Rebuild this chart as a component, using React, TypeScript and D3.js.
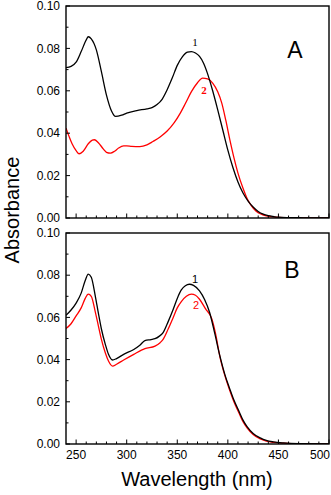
import * as d3 from "d3";

// panel A, curve 1 (black) and 2 (red): [wavelength nm, absorbance]
const topCurve1: [number, number][] = [
  [240, 0.0709], [245, 0.0715], [250, 0.0735], [255, 0.0785], [260, 0.084], [262, 0.0855],
  [265, 0.0845], [270, 0.0793], [275, 0.069], [280, 0.058], [285, 0.0505], [289, 0.0479],
  [295, 0.0485], [300, 0.0495], [310, 0.0507], [320, 0.0515], [325, 0.0521], [330, 0.0535],
  [335, 0.056], [340, 0.0605], [345, 0.066], [350, 0.072], [355, 0.076], [360, 0.0782],
  [364, 0.0785], [368, 0.0778], [372, 0.0762], [376, 0.073], [380, 0.068], [385, 0.06],
  [390, 0.051], [395, 0.0415], [400, 0.032], [405, 0.0238], [410, 0.017], [415, 0.0118],
  [420, 0.008], [425, 0.0052], [430, 0.0031], [435, 0.0018], [440, 0.0011], [445, 0.0007],
  [450, 0.0004], [460, 0.0002], [475, 0.0001], [500, 0.0],
];
const topCurve2: [number, number][] = [
  [240, 0.0424], [243, 0.0385], [246, 0.035], [250, 0.0318], [253, 0.0303], [257, 0.0315],
  [262, 0.035], [266, 0.0367], [268, 0.0369], [272, 0.0355], [277, 0.0325], [280, 0.031],
  [284, 0.0306], [288, 0.0315], [292, 0.033], [297, 0.034], [300, 0.034], [305, 0.0338],
  [313, 0.0337], [320, 0.0345], [326, 0.0361], [333, 0.0382], [340, 0.041], [347, 0.045],
  [353, 0.0495], [358, 0.054], [364, 0.0596], [370, 0.0638], [375, 0.066], [380, 0.0656],
  [385, 0.0636], [390, 0.0595], [394, 0.0542], [398, 0.046], [402, 0.0369], [406, 0.0285],
  [410, 0.0212], [415, 0.014], [419, 0.0092], [423, 0.006], [428, 0.0032], [433, 0.0018],
  [438, 0.001], [445, 0.0005], [455, 0.0002], [470, 0.0001], [500, 0.0],
];

// panel B
const bottomCurve1: [number, number][] = [
  [240, 0.061], [245, 0.0635], [250, 0.0668], [255, 0.0715], [259, 0.0775], [262, 0.0805],
  [265, 0.079], [269, 0.07], [272, 0.062], [275, 0.0545], [279, 0.047], [282, 0.0425],
  [286, 0.0398], [290, 0.0405], [297, 0.0425], [307, 0.0448], [313, 0.0468], [318, 0.049],
  [324, 0.0495], [328, 0.0499], [332, 0.051], [336, 0.0528], [341, 0.058], [346, 0.0639],
  [350, 0.069], [354, 0.073], [358, 0.075], [362, 0.0757], [366, 0.0752], [372, 0.0726],
  [377, 0.0685], [382, 0.0623], [387, 0.0525], [392, 0.042], [397, 0.033], [402, 0.026],
  [406, 0.0208], [411, 0.0155], [415, 0.0113], [419, 0.0082], [425, 0.005], [432, 0.0029],
  [438, 0.0017], [445, 0.001], [455, 0.0005], [470, 0.0002], [500, 0.0001],
];
const bottomCurve2: [number, number][] = [
  [240, 0.0547], [245, 0.057], [250, 0.0607], [255, 0.0645], [259, 0.069], [262, 0.071],
  [265, 0.07], [269, 0.0625], [272, 0.056], [275, 0.0496], [279, 0.043], [282, 0.0393],
  [286, 0.0369], [290, 0.0378], [297, 0.0398], [307, 0.0425], [318, 0.0452], [328, 0.0464],
  [333, 0.048], [336, 0.0496], [341, 0.0545], [346, 0.06], [350, 0.0645], [354, 0.0675],
  [359, 0.07], [364, 0.071], [368, 0.0705], [372, 0.0686], [378, 0.064], [384, 0.0595],
  [388, 0.052], [392, 0.0417], [397, 0.0325], [402, 0.0252], [406, 0.02], [411, 0.0147],
  [415, 0.0106], [419, 0.0077], [425, 0.0045], [432, 0.0024], [438, 0.0014], [445, 0.0008],
  [455, 0.0004], [470, 0.0001], [500, 0.0],
];

const yMajor = [0, 0.02, 0.04, 0.06, 0.08, 0.1];
const yMinor = [0.01, 0.03, 0.05, 0.07, 0.09];
const xMajor = [250, 300, 350, 400, 450, 500];
const xMinor = [260, 270, 280, 290, 310, 320, 330, 340, 360, 370, 380, 390, 410, 420, 430, 440, 460, 470, 480, 490];

const W = 331;
const H = 495;
const left = 66;
const right = 329;
const FONT = "'Liberation Sans', Arial, sans-serif";

const x = d3.scaleLinear().domain([240, 500]).range([left, right]);

type PanelProps = {
  top: number;
  bottom: number;
  c1: [number, number][];
  c2: [number, number][];
  letter: string;
  letterPos: [number, number];
  lab1: [number, number];
  lab2: [number, number];
  serifLabels: boolean;
  xLabels: boolean;
};

function Panel({ top, bottom, c1, c2, letter, letterPos, lab1, lab2, serifLabels, xLabels }: PanelProps) {
  const y = d3.scaleLinear().domain([0, 0.1]).range([bottom, top]);
  const line = d3
    .line<[number, number]>()
    .x((d) => x(d[0]))
    .y((d) => y(d[1]))
    .curve(d3.curveMonotoneX);
  const labFont = serifLabels ? "'Liberation Serif', 'Times New Roman', serif" : FONT;
  return (
    <g>
      <defs>
        <clipPath id={"clip-" + letter}>
          <rect x={left} y={top} width={right - left} height={bottom - top} />
        </clipPath>
      </defs>
      <g clipPath={`url(#clip-${letter})`}>
        <path d={line(c2) || ""} fill="none" stroke="#ff0000" strokeWidth={1.3} />
        <path d={line(c1) || ""} fill="none" stroke="#000" strokeWidth={1.3} />
      </g>
      {yMajor.map((v) => (
        <g key={"ym" + v}>
          <line x1={left} x2={left + 4} y1={y(v)} y2={y(v)} stroke="#000" strokeWidth={1} />
          <text x={left - 6} y={y(v)} dy="0.35em" textAnchor="end" fontFamily={FONT} fontSize={12}>
            {d3.format(".2f")(v)}
          </text>
        </g>
      ))}
      {yMinor.map((v) => (
        <line key={"yn" + v} x1={left} x2={left + 2.5} y1={y(v)} y2={y(v)} stroke="#000" strokeWidth={1} />
      ))}
      {xMajor.map((v) => (
        <g key={"xm" + v}>
          <line x1={x(v)} x2={x(v)} y1={bottom} y2={bottom - 4.5} stroke="#000" strokeWidth={1} />
          {xLabels && (
            <text
              x={v === 500 ? W - 1 : x(v)}
              y={bottom + 15}
              textAnchor={v === 500 ? "end" : "middle"}
              fontFamily={FONT}
              fontSize={12}
            >
              {v}
            </text>
          )}
        </g>
      ))}
      {xMinor.map((v) => (
        <line key={"xn" + v} x1={x(v)} x2={x(v)} y1={bottom} y2={bottom - 2.5} stroke="#000" strokeWidth={1} />
      ))}
      <rect x={left} y={top} width={right - left} height={bottom - top} fill="none" stroke="#000" strokeWidth={1.4} />
      <text x={letterPos[0]} y={letterPos[1]} textAnchor="middle" fontFamily={FONT} fontSize={23}>
        {letter}
      </text>
      <text x={lab1[0]} y={lab1[1]} textAnchor="middle" fontFamily={labFont} fontSize={11} fill="#000">
        1
      </text>
      <text x={lab2[0]} y={lab2[1]} textAnchor="middle" fontFamily={labFont} fontSize={11} fill="#ff0000" fontWeight={serifLabels ? "bold" : "normal"}>
        2
      </text>
    </g>
  );
}

export default function App() {
  return (
    <svg width={W} height={H} style={{ position: "absolute", left: 0, top: 0, background: "#fff" }}>
      <Panel
        top={6}
        bottom={218}
        c1={topCurve1}
        c2={topCurve2}
        letter="A"
        letterPos={[295, 58]}
        lab1={[195, 46]}
        lab2={[204, 94]}
        serifLabels={true}
        xLabels={false}
      />
      <Panel
        top={233}
        bottom={444}
        c1={bottomCurve1}
        c2={bottomCurve2}
        letter="B"
        letterPos={[292, 277.5]}
        lab1={[195, 283]}
        lab2={[196, 309]}
        serifLabels={false}
        xLabels={true}
      />
      <text
        transform="translate(18.5,210) rotate(-90)"
        textAnchor="middle"
        fontFamily={FONT}
        fontSize={20}
      >
        Absorbance
      </text>
      <text x={197} y={486} textAnchor="middle" fontFamily={FONT} fontSize={20}>
        Wavelength (nm)
      </text>
    </svg>
  );
}
